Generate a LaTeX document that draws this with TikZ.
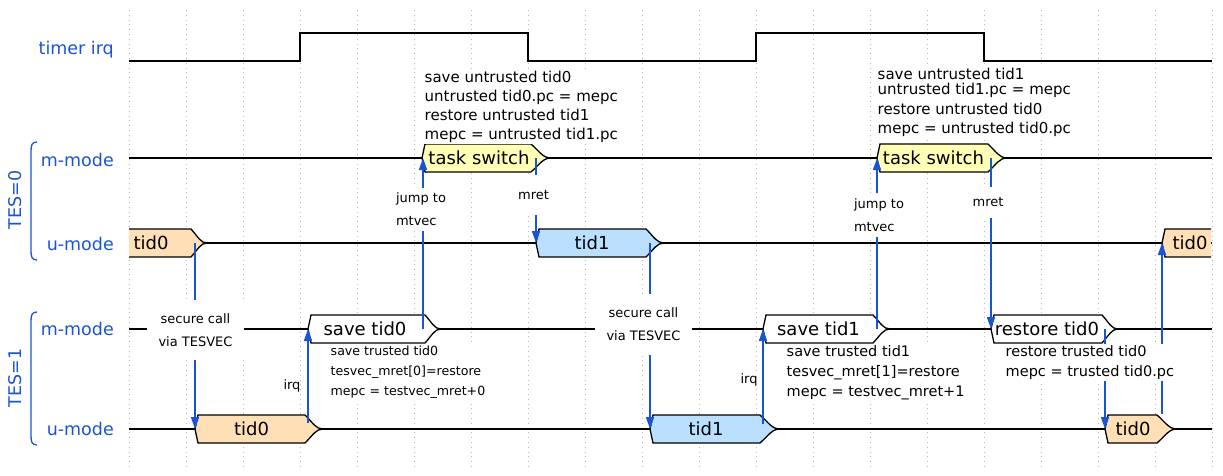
\documentclass[tikz,border=0pt]{standalone}
\usepackage{fontspec}
\setmainfont{DejaVu Sans}
\usepackage{xcolor}
\usepackage{tikz}
\usetikzlibrary{arrows.meta}
\definecolor{lblblue}{RGB}{25,85,210}
\definecolor{tidA}{RGB}{255,223,182}
\definecolor{tidB}{RGB}{187,224,255}
\definecolor{tswitch}{RGB}{255,255,182}

\begin{document}
\begin{tikzpicture}[x=1pt,y=1pt,yscale=-1,xscale=1,
  sig/.style={line width=1.3pt},
  wbox/.style={draw,line width=1.3pt,line join=miter},
  gridline/.style={gray!55,line width=0.8pt,dash pattern=on 0.8pt off 4pt},
  jmp/.style={lblblue,line width=1.6pt,-{Triangle[length=12pt,width=8pt]}},
  lbl/.style={lblblue,font=\fontsize{17.5}{20}\selectfont,anchor=base east,inner sep=0pt},
  boxtxt/.style={font=\fontsize{18}{20}\selectfont,inner sep=0pt},
  smalllbl/.style={font=\fontsize{13}{23}\selectfont,fill=white,inner sep=0pt},
  notetxt/.style={fill=white,align=left,anchor=north west,inner sep=1.5pt}]
\useasboundingbox (0,0) rectangle (1223,476);
%Grid
\foreach \gx in {0,...,19} \draw [gridline] (129+57*\gx,10) -- (129+57*\gx,470);
%Straight Lines: timer irq
\draw [sig] (129,61) -- (300,61) -- (300,33) -- (528,33) -- (528,61) -- (756,61) -- (756,33) -- (984,33) -- (984,61) -- (1212,61);
%Straight Lines: modes
\draw [sig] (129,158) -- (1212,158);
\draw [sig] (129,243) -- (1212,243);
\draw [sig] (129,329) -- (1212,329);
\draw [sig] (129,429) -- (1212,429);
%Braces
\draw [lblblue,line width=1.3pt] (37,142) .. controls (32,142) and (31,145) .. (31,151) -- (31,251) .. controls (31,257) and (32,260) .. (37,260);
\draw [lblblue,line width=1.3pt] (37,312) .. controls (32,312) and (31,315) .. (31,321) -- (31,436) .. controls (31,442) and (32,445) .. (37,445);
%Boxes u-mode TES=0
\draw [wbox,fill=tidA] (129,229) -- (191,229) .. controls (198.2,237) and (200.6,243) .. (207,243) .. controls (200.6,243) and (198.2,249) .. (191,257) -- (129,257);
\draw [wbox,fill=tidB] (536,243) -- (539,229) -- (646,229) .. controls (654.1,237) and (656.8,243) .. (664,243) .. controls (656.8,243) and (654.1,249) .. (646,257) -- (539,257) -- cycle;
\draw [wbox,fill=tidA] (1211,229) -- (1165,229) -- (1162,243) -- (1165,257) -- (1211,257);
%Boxes m-mode TES=0
\draw [wbox,fill=tswitch] (422,158) -- (425,144) -- (531,144) .. controls (540,152) and (543,158) .. (551,158) .. controls (543,158) and (540,164) .. (531,172) -- (425,172) -- cycle;
\draw [wbox,fill=tswitch] (877,158) -- (880,144) -- (988,144) .. controls (996.5,152) and (999.4,158) .. (1007,158) .. controls (999.4,158) and (996.5,164) .. (988,172) -- (880,172) -- cycle;
%Boxes m-mode TES=1
\draw [wbox,fill=white] (308,329) -- (311,315) -- (425,315) .. controls (432.2,323) and (434.6,329) .. (441,329) .. controls (434.6,329) and (432.2,335) .. (425,343) -- (311,343) -- cycle;
\draw [wbox,fill=white] (763,329) -- (766,315) -- (873,315) .. controls (880.6,323) and (883.2,329) .. (890,329) .. controls (883.2,329) and (880.6,335) .. (873,343) -- (766,343) -- cycle;
\draw [wbox,fill=white] (991,329) -- (994,315) -- (1102,315) .. controls (1109.2,323) and (1111.6,329) .. (1118,329) .. controls (1111.6,329) and (1109.2,335) .. (1102,343) -- (994,343) -- cycle;
%Boxes u-mode TES=1
\draw [wbox,fill=tidA] (195,429) -- (198,415) -- (305,415) .. controls (313.1,423) and (315.8,429) .. (323,429) .. controls (315.8,429) and (313.1,435) .. (305,443) -- (198,443) -- cycle;
\draw [wbox,fill=tidB] (650,429) -- (653,415) -- (760,415) .. controls (769,423) and (772,429) .. (780,429) .. controls (772,429) and (769,435) .. (760,443) -- (653,443) -- cycle;
\draw [wbox,fill=tidA] (1105,429) -- (1108,415) -- (1157,415) .. controls (1166,423) and (1169,429) .. (1177,429) .. controls (1169,429) and (1166,435) .. (1157,443) -- (1108,443) -- cycle;
%Arrow ends
\coordinate (scA) at (195,243);
\coordinate (tidCa) at (195,429);
\coordinate (irqA) at (308,423);
\coordinate (saveA) at (308,329);
\coordinate (jmpA) at (423,329);
\coordinate (tsA) at (423,158);
\coordinate (mretA) at (536,158);
\coordinate (tidBa) at (536,243);
\coordinate (scB) at (650,243);
\coordinate (tidBb) at (650,429);
\coordinate (irqB) at (763,424);
\coordinate (saveB) at (763,329);
\coordinate (jmpB) at (877,329);
\coordinate (tsB) at (877,158);
\coordinate (mretB) at (991,158);
\coordinate (rstA) at (991,329);
\coordinate (rstB) at (1105,329);
\coordinate (tidCc) at (1105,429);
\coordinate (retA) at (1162,414);
\coordinate (tidAc) at (1162,243);
%Arrows
\draw [jmp] (scA) -- (tidCa);
\draw [jmp] (irqA) -- (saveA);
\draw [jmp] (jmpA) -- (tsA);
\draw [jmp] (mretA) -- (tidBa);
\draw [jmp] (scB) -- (tidBb);
\draw [jmp] (irqB) -- (saveB);
\draw [jmp] (jmpB) -- (tsB);
\draw [jmp] (mretB) -- (rstA);
\draw [jmp] (rstB) -- (tidCc);
\draw [jmp] (retA) -- (tidAc);
% Text Node: signal names
\draw (114,54.5) node [lbl] (nIrq) {timer irq};
\draw (114,166.5) node [lbl] (nMa) {m-mode};
\draw (114,250.5) node [lbl] (nUa) {u-mode};
\draw (114,335.5) node [lbl] (nMb) {m-mode};
\draw (114,435) node [lbl] (nUb) {u-mode};
\draw (15,200) node [lblblue,rotate=90,font=\fontsize{17.5}{20}\selectfont,inner sep=0pt] (nTesA) {TES=0};
\draw (15,378) node [lblblue,rotate=90,font=\fontsize{17.5}{20}\selectfont,inner sep=0pt] (nTesB) {TES=1};
% Text Node: box texts
\draw (151,243) node [boxtxt] (tTidA) {tid0};
\draw (592,243) node [boxtxt] (tTidB) {tid1};
\draw (1190,243) node [boxtxt] (tTidC) {tid0};
\draw (479,158) node [boxtxt] (tTsA) {task switch};
\draw (933.5,158) node [boxtxt] (tTsB) {task switch};
\draw (365,329) node [boxtxt] (tSaveA) {save tid0};
\draw (818.5,329) node [boxtxt] (tSaveB) {save tid1};
\draw (1047,329) node [boxtxt] (tRst) {restore tid0};
\draw (251.5,429) node [boxtxt] (tTidD) {tid0};
\draw (706,429) node [boxtxt] (tTidE) {tid1};
\draw (1133,429) node [boxtxt] (tTidF) {tid0};
% Text Node: arrow labels
\draw (195.5,330) node [smalllbl,align=center,minimum width=97pt,minimum height=60pt] (lScA) {secure call\\via TESVEC};
\draw (643.5,324) node [smalllbl,align=center,minimum width=97pt,minimum height=61pt] (lScB) {secure call\\via TESVEC};
\draw (421,209) node [smalllbl,align=left,minimum width=56pt,minimum height=43pt] (lJmpA) {jump to\\mtvec};
\draw (879,215) node [smalllbl,align=left,minimum width=56pt,minimum height=44pt] (lJmpB) {jump to\\mtvec};
\draw (533.5,195) node [smalllbl,minimum width=34pt,minimum height=40pt] (lMretA) {mret};
\draw (988,202) node [smalllbl,minimum width=34pt,minimum height=31pt] (lMretB) {mret};
\draw (292,386) node [smalllbl] (lIrqA) {irq};
\draw (749,380) node [smalllbl] (lIrqB) {irq};
% Text Node: notes
\draw (423,69.5) node [notetxt,font=\fontsize{15}{19}\selectfont] (noteA) {save untrusted tid0\\untrusted tid0.pc = mepc\\restore untrusted tid1\\mepc = untrusted tid1.pc};
\draw (876,66.5) node [notetxt,font=\fontsize{15}{19.5}\selectfont] (noteB) {save untrusted tid1\\[-4.5pt]untrusted tid1.pc = mepc\\restore untrusted tid0\\mepc = untrusted tid0.pc};
\draw (329,344.5) node [notetxt,font=\fontsize{12.6}{20}\selectfont] (noteC) {save trusted tid0\\tesvec\_mret[0]=restore\\mepc = testvec\_mret+0};
\draw (785,344) node [notetxt,font=\fontsize{14.5}{20}\selectfont] (noteD) {save trusted tid1\\tesvec\_mret[1]=restore\\mepc = testvec\_mret+1};
\draw (1004,344) node [notetxt,font=\fontsize{14.5}{20}\selectfont] (noteE) {restore trusted tid0\\mepc = trusted tid0.pc};
\end{tikzpicture}
\end{document}
